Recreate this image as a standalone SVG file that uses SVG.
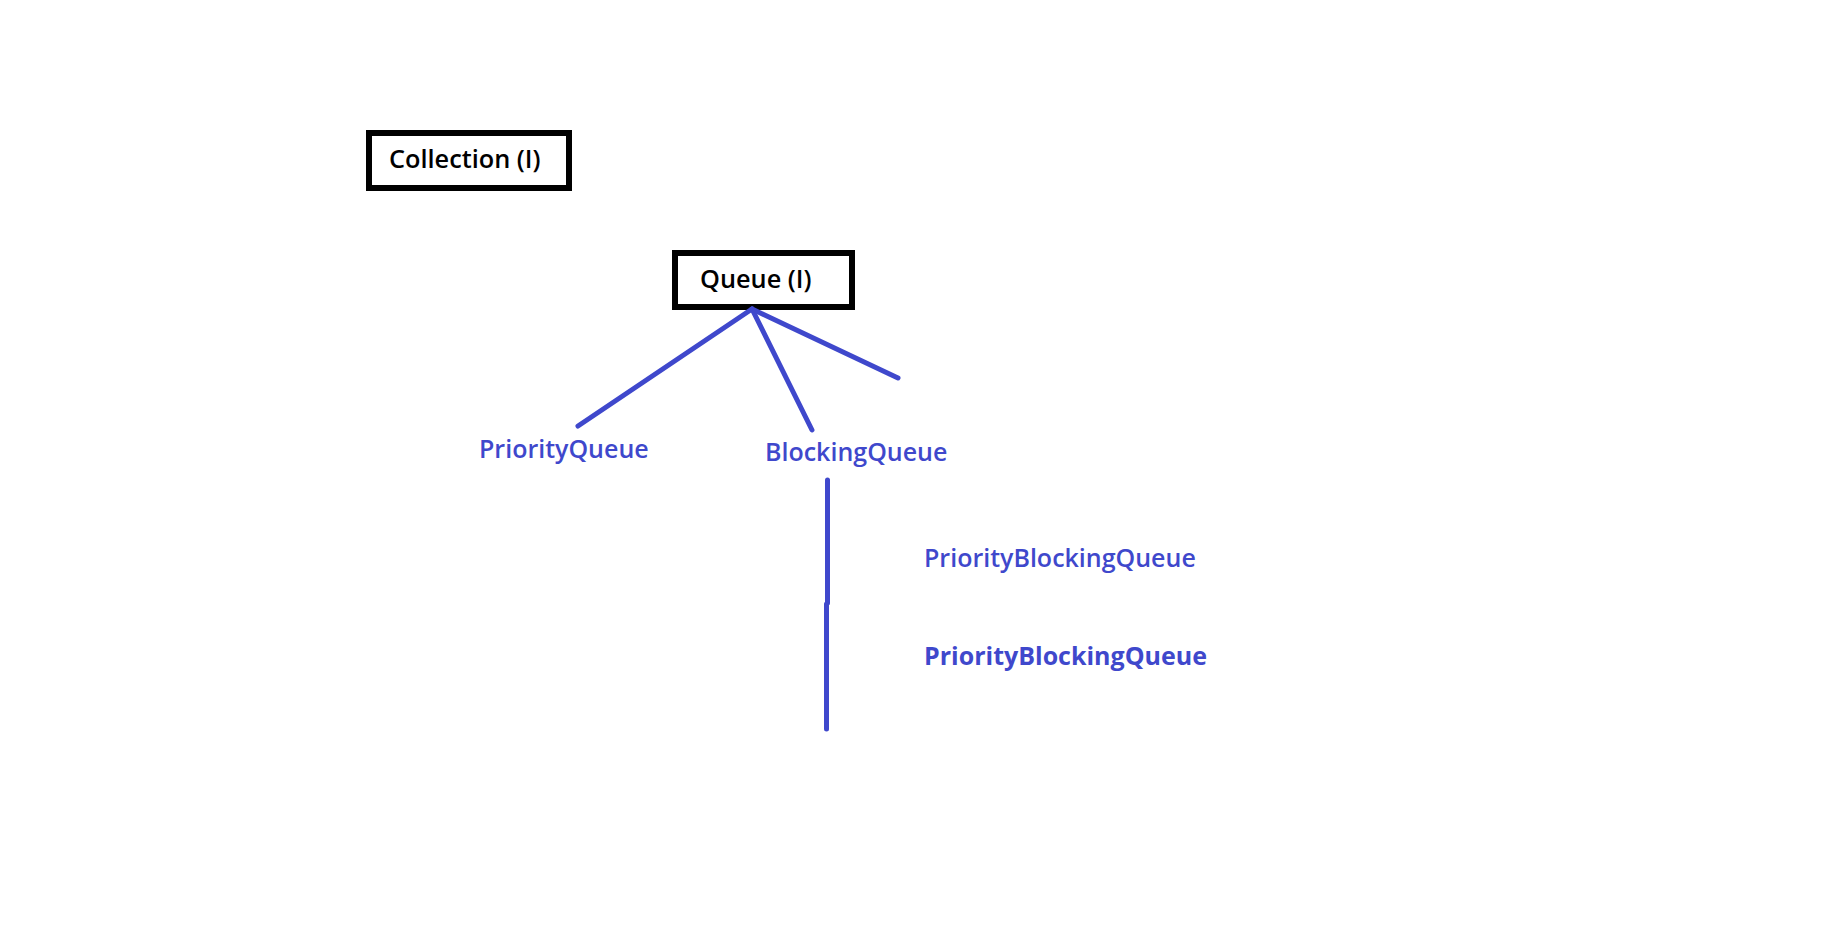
<svg xmlns="http://www.w3.org/2000/svg" width="1822" height="934" viewBox="0 0 1822 934">
<style>
.box{fill:#fff;stroke:#000;stroke-width:6}
.bt{font-family:"Open Sans","Noto Sans",sans-serif;font-size:25.3px;fill:#000;font-weight:600}
.lbl{font-family:"Open Sans","Noto Sans",sans-serif;font-size:25px;fill:#3f48cc;font-weight:600}
.ln{stroke:#3f48cc;stroke-width:5;stroke-linecap:round;fill:none}
</style>
<rect width="1822" height="934" fill="#fff"/>
<g id="collection">
<rect class="box" x="369" y="133" width="200" height="55"/>
<text class="bt" x="389" y="168">Collection (I)</text>
</g>
<g id="queue">
<rect class="box" x="675" y="253" width="177" height="54"/>
<text class="bt" x="700" y="288">Queue (I)</text>
</g>
<g id="connectors">
<line class="ln" x1="752" y1="309" x2="578" y2="426"/>
<line class="ln" x1="752" y1="309" x2="812" y2="430"/>
<line class="ln" x1="752" y1="309" x2="898" y2="378"/>
<line class="ln" x1="827.5" y1="480" x2="827.5" y2="603" stroke-linecap="butt"/>
<line class="ln" x1="826.5" y1="604" x2="826.5" y2="729" stroke-linecap="butt"/>
</g>
<g id="priorityqueue"><text class="lbl" x="479" y="458">PriorityQueue</text></g>
<g id="blockingqueue"><text class="lbl" x="765" y="461">BlockingQueue</text></g>
<g id="pbq1"><text class="lbl" x="924" y="567">PriorityBlockingQueue</text></g>
<g id="pbq2"><text class="lbl" x="924" y="665" style="font-weight:700">PriorityBlockingQueue</text></g>
</svg>
